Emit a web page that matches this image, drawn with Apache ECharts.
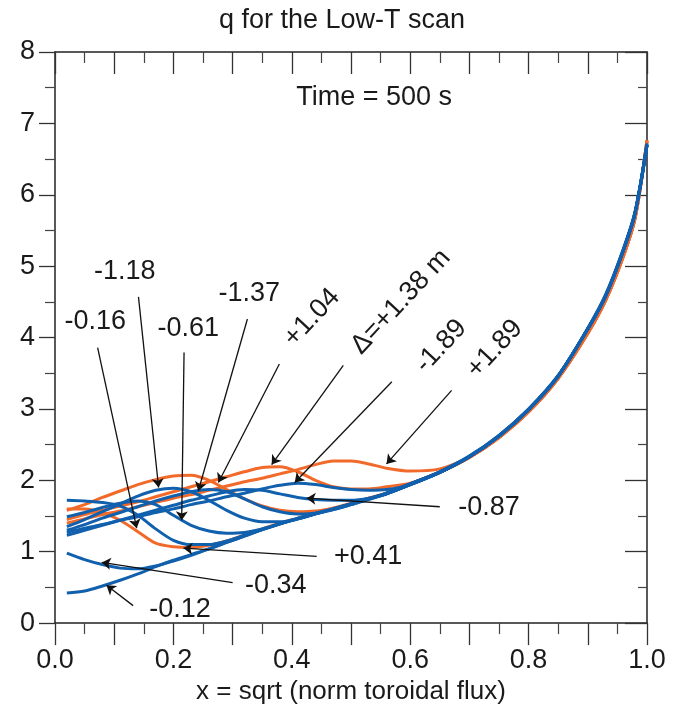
<!DOCTYPE html>
<html><head><meta charset="utf-8">
<script src="https://cdn.jsdelivr.net/npm/echarts@6/dist/echarts.min.js"></script>
<style>html,body{margin:0;padding:0;background:#fff}#c{width:684px;height:710px}</style>
</head><body><div id="c"></div>
<script>
// x positions (sqrt of normalized toroidal flux)
const xs = [0.02,0.05,0.08,0.11,0.14,0.17,0.20,0.23,0.26,0.29,0.32,0.35,0.38,0.41,0.44,0.47,0.50,0.53,0.56,0.60,0.65,0.70,0.75,0.80,0.85,0.90,0.93,0.96,0.98,1.00];

// q profiles, blue (negative shifts)
const qM012 = [0.42,0.45,0.52,0.60,0.69,0.79,0.88,0.96,1.04,1.13,1.22,1.31,1.39,1.46,1.53,1.59,1.66,1.73,1.81,1.94,2.11,2.33,2.62,2.99,3.46,4.12,4.58,5.22,5.75,6.70];
const qM034 = [0.98,0.89,0.82,0.77,0.76,0.80,0.87,0.95,1.04,1.13,1.22,1.31,1.39,1.46,1.53,1.60,1.67,1.74,1.82,1.95,2.12,2.34,2.63,3.00,3.47,4.13,4.60,5.24,5.77,6.72];
const qM016 = [1.72,1.71,1.69,1.64,1.51,1.32,1.16,1.10,1.10,1.15,1.23,1.31,1.39,1.47,1.54,1.60,1.67,1.74,1.82,1.95,2.12,2.33,2.62,2.99,3.46,4.12,4.58,5.22,5.75,6.70];
const qM061 = [1.49,1.55,1.62,1.68,1.71,1.66,1.51,1.37,1.29,1.26,1.27,1.32,1.39,1.46,1.53,1.60,1.67,1.74,1.81,1.94,2.11,2.33,2.62,2.99,3.46,4.12,4.58,5.22,5.75,6.70];
const qM118 = [1.35,1.45,1.56,1.67,1.78,1.86,1.89,1.84,1.72,1.58,1.47,1.42,1.42,1.46,1.53,1.60,1.67,1.74,1.82,1.95,2.12,2.34,2.63,3.00,3.47,4.13,4.59,5.23,5.76,6.71];
const qM137 = [1.30,1.38,1.47,1.55,1.63,1.71,1.78,1.84,1.87,1.84,1.74,1.63,1.56,1.53,1.54,1.59,1.66,1.74,1.81,1.94,2.11,2.33,2.62,2.99,3.46,4.12,4.58,5.22,5.75,6.70];
const qM087 = [1.23,1.30,1.37,1.44,1.51,1.58,1.65,1.72,1.78,1.84,1.87,1.86,1.81,1.76,1.73,1.72,1.72,1.75,1.81,1.94,2.11,2.33,2.62,2.99,3.46,4.12,4.58,5.22,5.75,6.70];
const qM189 = [1.27,1.33,1.38,1.44,1.49,1.55,1.60,1.66,1.71,1.77,1.82,1.88,1.93,1.96,1.94,1.90,1.87,1.86,1.87,1.94,2.11,2.33,2.62,2.99,3.46,4.12,4.58,5.22,5.75,6.70];
// q profiles, orange (positive shifts)
const qP041 = [1.60,1.60,1.55,1.44,1.28,1.12,1.07,1.06,1.09,1.15,1.23,1.32,1.40,1.47,1.54,1.61,1.68,1.75,1.82,1.95,2.11,2.32,2.60,2.96,3.43,4.06,4.52,5.14,5.68,6.76];
const qP104 = [1.58,1.66,1.76,1.85,1.94,2.01,2.06,2.07,2.00,1.87,1.74,1.64,1.58,1.56,1.57,1.61,1.67,1.75,1.82,1.95,2.11,2.32,2.60,2.96,3.43,4.06,4.52,5.14,5.68,6.76];
const qP138 = [1.45,1.52,1.58,1.64,1.70,1.77,1.84,1.91,1.98,2.05,2.12,2.18,2.19,2.12,2.00,1.91,1.88,1.88,1.91,1.96,2.12,2.32,2.60,2.96,3.43,4.06,4.52,5.14,5.68,6.76];
const qP189 = [1.40,1.46,1.52,1.57,1.63,1.69,1.75,1.80,1.86,1.92,1.98,2.03,2.09,2.15,2.22,2.27,2.27,2.23,2.17,2.13,2.16,2.33,2.60,2.96,3.43,4.06,4.52,5.14,5.68,6.76];

const orangeSeries = [['+0.41',qP041],['+1.04',qP104],['+1.38',qP138],['+1.89',qP189]];
const blueSeries = [['-0.12',qM012],['-0.34',qM034],['-0.16',qM016],['-0.61',qM061],['-1.18',qM118],['-1.37',qM137],['-0.87',qM087],['-1.89',qM189]];

// annotations
const annLabels = ['-0.16','-1.18','-0.61','-1.37','+1.04','\u0394=+1.38 m','-1.89','+1.89','-0.87','+0.41','-0.34','-0.12','Time = 500 s'];
const annPos = [[0.068,4.23],[0.118,4.92],[0.225,4.13],[0.328,4.61],[0.434,4.28],[0.584,4.50],[0.652,3.88],[0.743,3.84],[0.733,1.62],[0.529,0.93],[0.373,0.52],[0.211,0.19],[0.539,7.36]];
const annRotate = [0,0,0,0,47,47,47,47,0,0,0,0,0];
const arrowFrom = [[0.072,3.86],[0.141,4.57],[0.218,3.79],[0.325,4.26],[0.379,3.63],[0.487,3.61],[0.569,3.38],[0.67,3.26],[0.65,1.63],[0.442,0.935],[0.30,0.566],[0.132,0.245]];
const arrowTo = [[0.138,1.33],[0.175,1.90],[0.214,1.44],[0.242,1.85],[0.276,1.97],[0.366,2.22],[0.405,1.97],[0.56,2.23],[0.425,1.75],[0.217,1.05],[0.079,0.85],[0.087,0.53]];

const FONT = "'Liberation Sans', Arial, sans-serif";
const TXT = '#1a1a1a';
const BLUE = '#1160ae';
const ORANGE = '#f26a2a';

function lineSeries(name, ys, color) {
  return {
    type: 'line', name: name, xAxisIndex: 0, yAxisIndex: 0,
    data: xs.map((x, i) => [x, ys[i]]),
    showSymbol: false, symbol: 'none', smooth: 0.3,
    lineStyle: { color: color, width: 3 }, silent: true, z: 3
  };
}

const series = [];
orangeSeries.forEach(s => series.push(lineSeries(s[0], s[1], ORANGE)));
blueSeries.forEach(s => series.push(lineSeries(s[0], s[1], BLUE)));

series.push({
  type: 'lines', coordinateSystem: 'cartesian2d', xAxisIndex: 0, yAxisIndex: 0,
  symbol: ['none', 'arrow'], symbolSize: [0, 9], silent: true, z: 5,
  lineStyle: { color: '#111', width: 1.3, opacity: 1, curveness: 0 },
  data: arrowFrom.map((f, i) => ({ coords: [f, arrowTo[i]] }))
});

series.push({
  type: 'custom', xAxisIndex: 0, yAxisIndex: 0, silent: true, z: 6,
  data: annPos,
  renderItem: function (params, api) {
    const p = api.coord([api.value(0), api.value(1)]);
    const i = params.dataIndex;
    return {
      type: 'text', x: p[0], y: p[1], rotation: annRotate[i] * Math.PI / 180,
      style: { text: annLabels[i], fill: TXT, font: '27px ' + FONT,
               align: 'center', verticalAlign: 'middle' }
    };
  }
});

const xFmt = v => (Math.round(v * 10) % 2 === 0 ? v.toFixed(1) : '');

const chart = echarts.init(document.getElementById('c'), null, { renderer: 'canvas' });
chart.setOption({
  animation: false,
  backgroundColor: '#fff',
  title: { text: 'q for the Low-T scan', left: 'center', top: 2,
           textStyle: { fontSize: 27, fontWeight: 'normal', color: TXT, fontFamily: FONT } },
  grid: { left: 55, right: 37, top: 52, bottom: 79, containLabel: false },
  xAxis: [
    { type: 'value', position: 'bottom', min: 0, max: 1, interval: 0.1,
      axisLine: { show: true, onZero: false, lineStyle: { color: '#222', width: 1.5 } },
      axisTick: { show: true, length: 22, lineStyle: { color: '#333', width: 1.3 } },
      minorTick: { show: true, splitNumber: 2, length: 11, lineStyle: { color: '#444', width: 1.2 } },
      axisLabel: { margin: 24, fontSize: 27, color: TXT, fontFamily: FONT, formatter: xFmt },
      splitLine: { show: false },
      name: 'x = sqrt (norm toroidal flux)', nameLocation: 'middle', nameGap: 44,
      nameTextStyle: { fontSize: 26, color: TXT, fontFamily: FONT } },
    { type: 'value', position: 'top', min: 0, max: 1, interval: 0.1,
      axisLine: { show: true, onZero: false, lineStyle: { color: '#222', width: 1.5 } },
      axisTick: { show: true, inside: true, length: 22, lineStyle: { color: '#333', width: 1.3 } },
      minorTick: { show: true, splitNumber: 2, length: 11, lineStyle: { color: '#444', width: 1.2 } },
      axisLabel: { show: false }, splitLine: { show: false } }
  ],
  yAxis: [
    { type: 'value', position: 'left', min: 0, max: 8, interval: 1,
      axisLine: { show: true, onZero: false, lineStyle: { color: '#222', width: 1.5 } },
      axisTick: { show: true, length: 16, lineStyle: { color: '#333', width: 1.3 } },
      minorTick: { show: true, splitNumber: 2, length: 10, lineStyle: { color: '#444', width: 1.2 } },
      axisLabel: { margin: 20, fontSize: 27, color: TXT, fontFamily: FONT },
      splitLine: { show: false } },
    { type: 'value', position: 'right', min: 0, max: 8, interval: 1,
      axisLine: { show: true, onZero: false, lineStyle: { color: '#222', width: 1.5 } },
      axisTick: { show: true, inside: true, length: 22, lineStyle: { color: '#333', width: 1.3 } },
      minorTick: { show: true, splitNumber: 2, length: 9, lineStyle: { color: '#444', width: 1.2 } },
      axisLabel: { show: false }, splitLine: { show: false } }
  ],
  series: series
});
</script></body></html>
